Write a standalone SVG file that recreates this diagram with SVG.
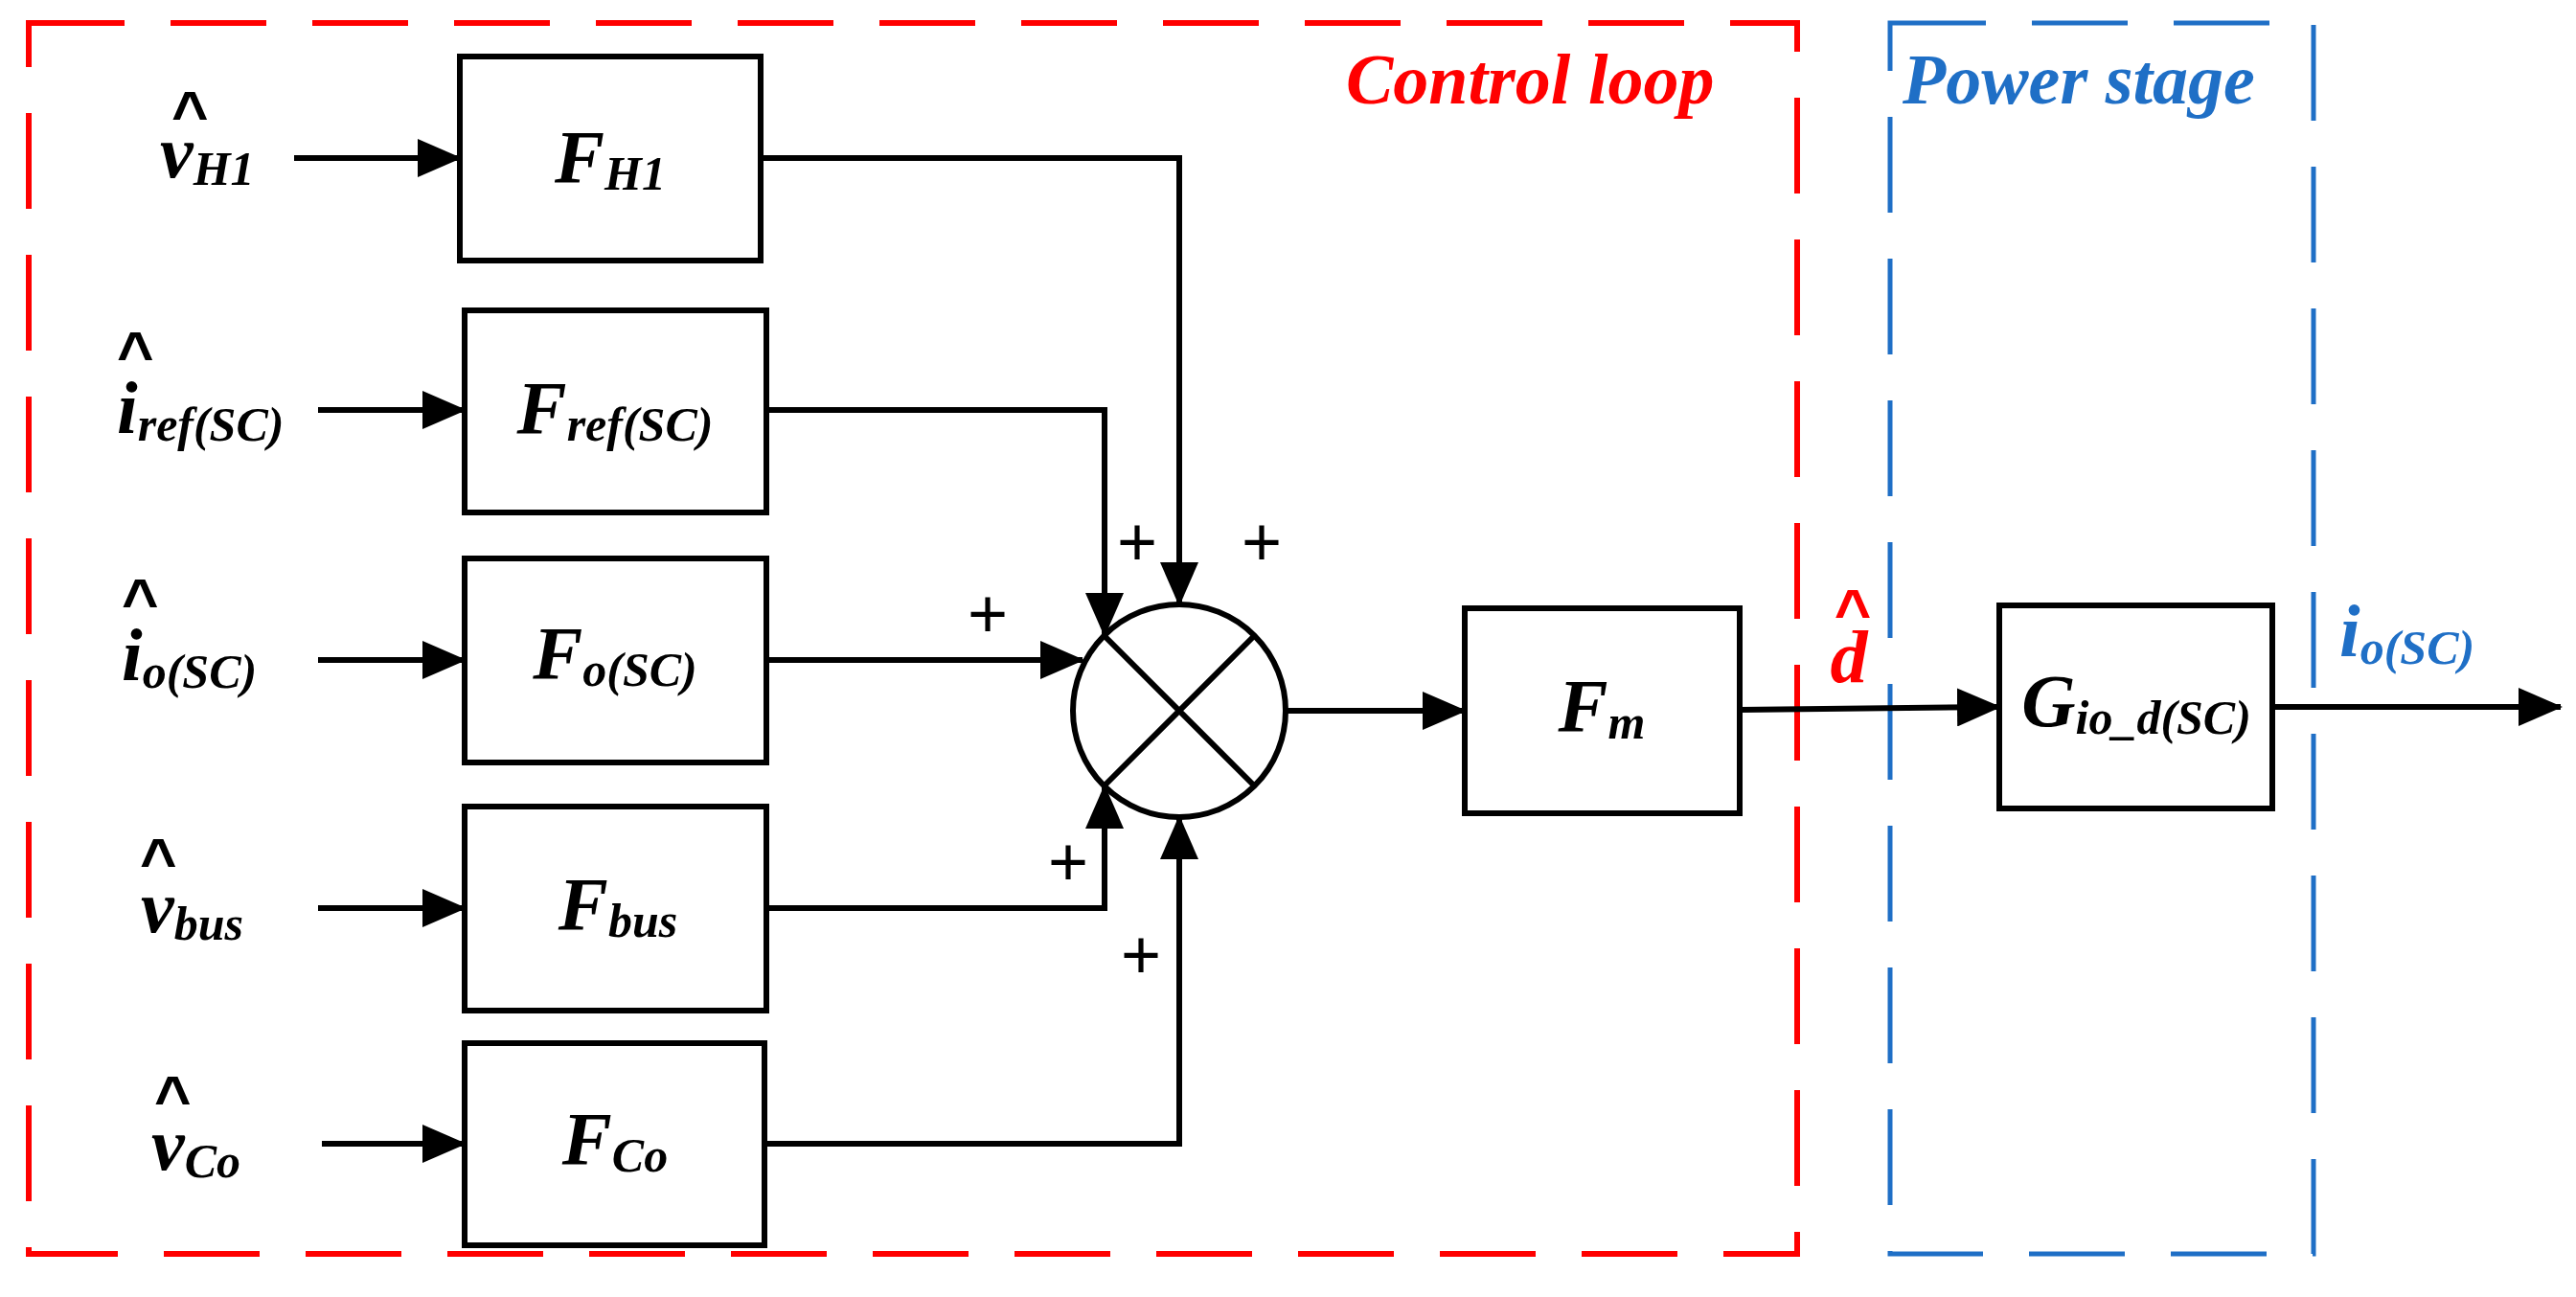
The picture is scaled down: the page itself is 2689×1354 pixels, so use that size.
<svg xmlns="http://www.w3.org/2000/svg" width="2689" height="1354" viewBox="0 0 2689 1354">
<style>
.box{fill:#fff;stroke:#000;stroke-width:6}
.ln{fill:none;stroke:#000;stroke-width:6}
.t{font-family:"Liberation Serif",serif;font-weight:bold;font-style:italic;font-size:78px;fill:#000}
.s{font-size:50px}
.hat{font-family:"Liberation Sans",sans-serif;font-weight:bold;font-size:66px;fill:#000}
.plus{font-family:"Liberation Sans",sans-serif;font-size:72px;fill:#000;text-anchor:middle}
</style>
<defs>
<marker id="ah" markerUnits="userSpaceOnUse" markerWidth="46" markerHeight="40" refX="44" refY="20" orient="auto">
<path d="M0,0 L46,20 L0,40 Z" fill="#000"/>
</marker>
</defs>
<rect x="30" y="24" width="1846" height="1285" fill="none" stroke="#f00" stroke-width="6" stroke-dasharray="100,48"/>
<rect x="1973" y="24" width="442" height="1285" fill="none" stroke="#1f6fc6" stroke-width="5" stroke-dasharray="100,48"/>
<text x="1405" y="108" class="t" style="fill:#f00;font-size:74px">Control loop</text>
<text x="1986" y="108" class="t" style="fill:#1f6fc6;font-size:74px">Power stage</text>

<g id="in-vH1"><text x="167" y="185" class="t">v<tspan class="s" dy="8">H1</tspan></text><text x="179" y="142" class="hat">^</text></g>
<g id="in-iref"><text x="122" y="452" class="t">i<tspan class="s" dy="8">ref(SC)</tspan></text><text x="122" y="393" class="hat">^</text></g>
<g id="in-io"><text x="127" y="710" class="t">i<tspan class="s" dy="8">o(SC)</tspan></text><text x="127" y="651" class="hat">^</text></g>
<g id="in-vbus"><text x="147" y="973" class="t">v<tspan class="s" dy="8">bus</tspan></text><text x="146" y="922" class="hat">^</text></g>
<g id="in-vCo"><text x="158" y="1221" class="t">v<tspan class="s" dy="8">Co</tspan></text><text x="161" y="1170" class="hat">^</text></g>

<g id="FH1"><rect class="box" x="480" y="59" width="314" height="213"/><text x="637" y="190" class="t" text-anchor="middle">F<tspan class="s" dy="8">H1</tspan></text></g>
<g id="Fref"><rect class="box" x="485" y="324" width="315" height="211"/><text x="642" y="452" class="t" text-anchor="middle">F<tspan class="s" dy="8">ref(SC)</tspan></text></g>
<g id="Fo"><rect class="box" x="485" y="583" width="315" height="213"/><text x="642" y="708" class="t" text-anchor="middle">F<tspan class="s" dy="8">o(SC)</tspan></text></g>
<g id="Fbus"><rect class="box" x="485" y="842" width="315" height="213"/><text x="645" y="970" class="t" text-anchor="middle">F<tspan class="s" dy="8">bus</tspan></text></g>
<g id="FCo"><rect class="box" x="485" y="1089" width="313" height="211"/><text x="642" y="1215" class="t" text-anchor="middle">F<tspan class="s" dy="8">Co</tspan></text></g>
<g id="sum"><circle cx="1231" cy="742" r="111" fill="#fff" stroke="#000" stroke-width="6"/><path class="ln" d="M1152.5,663.5 L1309.5,820.5 M1309.5,663.5 L1152.5,820.5"/></g>
<g id="Fm"><rect class="box" x="1529" y="635" width="287" height="214"/><text x="1672" y="763" class="t" text-anchor="middle">F<tspan class="s" dy="8">m</tspan></text></g>
<g id="G"><rect class="box" x="2087" y="632" width="285" height="212"/><text x="2230" y="758" class="t" text-anchor="middle">G<tspan class="s" dy="8">io_d(SC)</tspan></text></g>

<g id="connectors">
<path class="ln" marker-end="url(#ah)" d="M307,165 H480"/>
<path class="ln" marker-end="url(#ah)" d="M332,428 H485"/>
<path class="ln" marker-end="url(#ah)" d="M332,689 H485"/>
<path class="ln" marker-end="url(#ah)" d="M332,948 H485"/>
<path class="ln" marker-end="url(#ah)" d="M336,1194 H485"/>
<path class="ln" marker-end="url(#ah)" d="M794,165 H1231 V631"/>
<path class="ln" marker-end="url(#ah)" d="M800,428 H1153 V663"/>
<path class="ln" marker-end="url(#ah)" d="M800,689 H1130"/>
<path class="ln" marker-end="url(#ah)" d="M800,948 H1153 V821"/>
<path class="ln" marker-end="url(#ah)" d="M798,1194 H1231 V853"/>
<path class="ln" marker-end="url(#ah)" d="M1342,742 H1529"/>
<path class="ln" marker-end="url(#ah)" d="M1816,741 L2087,738"/>
<path class="ln" marker-end="url(#ah)" d="M2372,738 H2673"/>
</g>
<text x="1031" y="665" class="plus">+</text>
<text x="1187" y="590" class="plus">+</text>
<text x="1317" y="590" class="plus">+</text>
<text x="1115" y="924" class="plus">+</text>
<text x="1191" y="1021" class="plus">+</text>
<text x="1930" y="712" class="t" text-anchor="middle" style="fill:#f00">d</text>
<text x="1934" y="662" class="hat" text-anchor="middle" style="fill:#f00">^</text>
<text x="2442" y="685" class="t" style="fill:#1f6fc6">i<tspan class="s" dy="8">o(SC)</tspan></text>
</svg>
